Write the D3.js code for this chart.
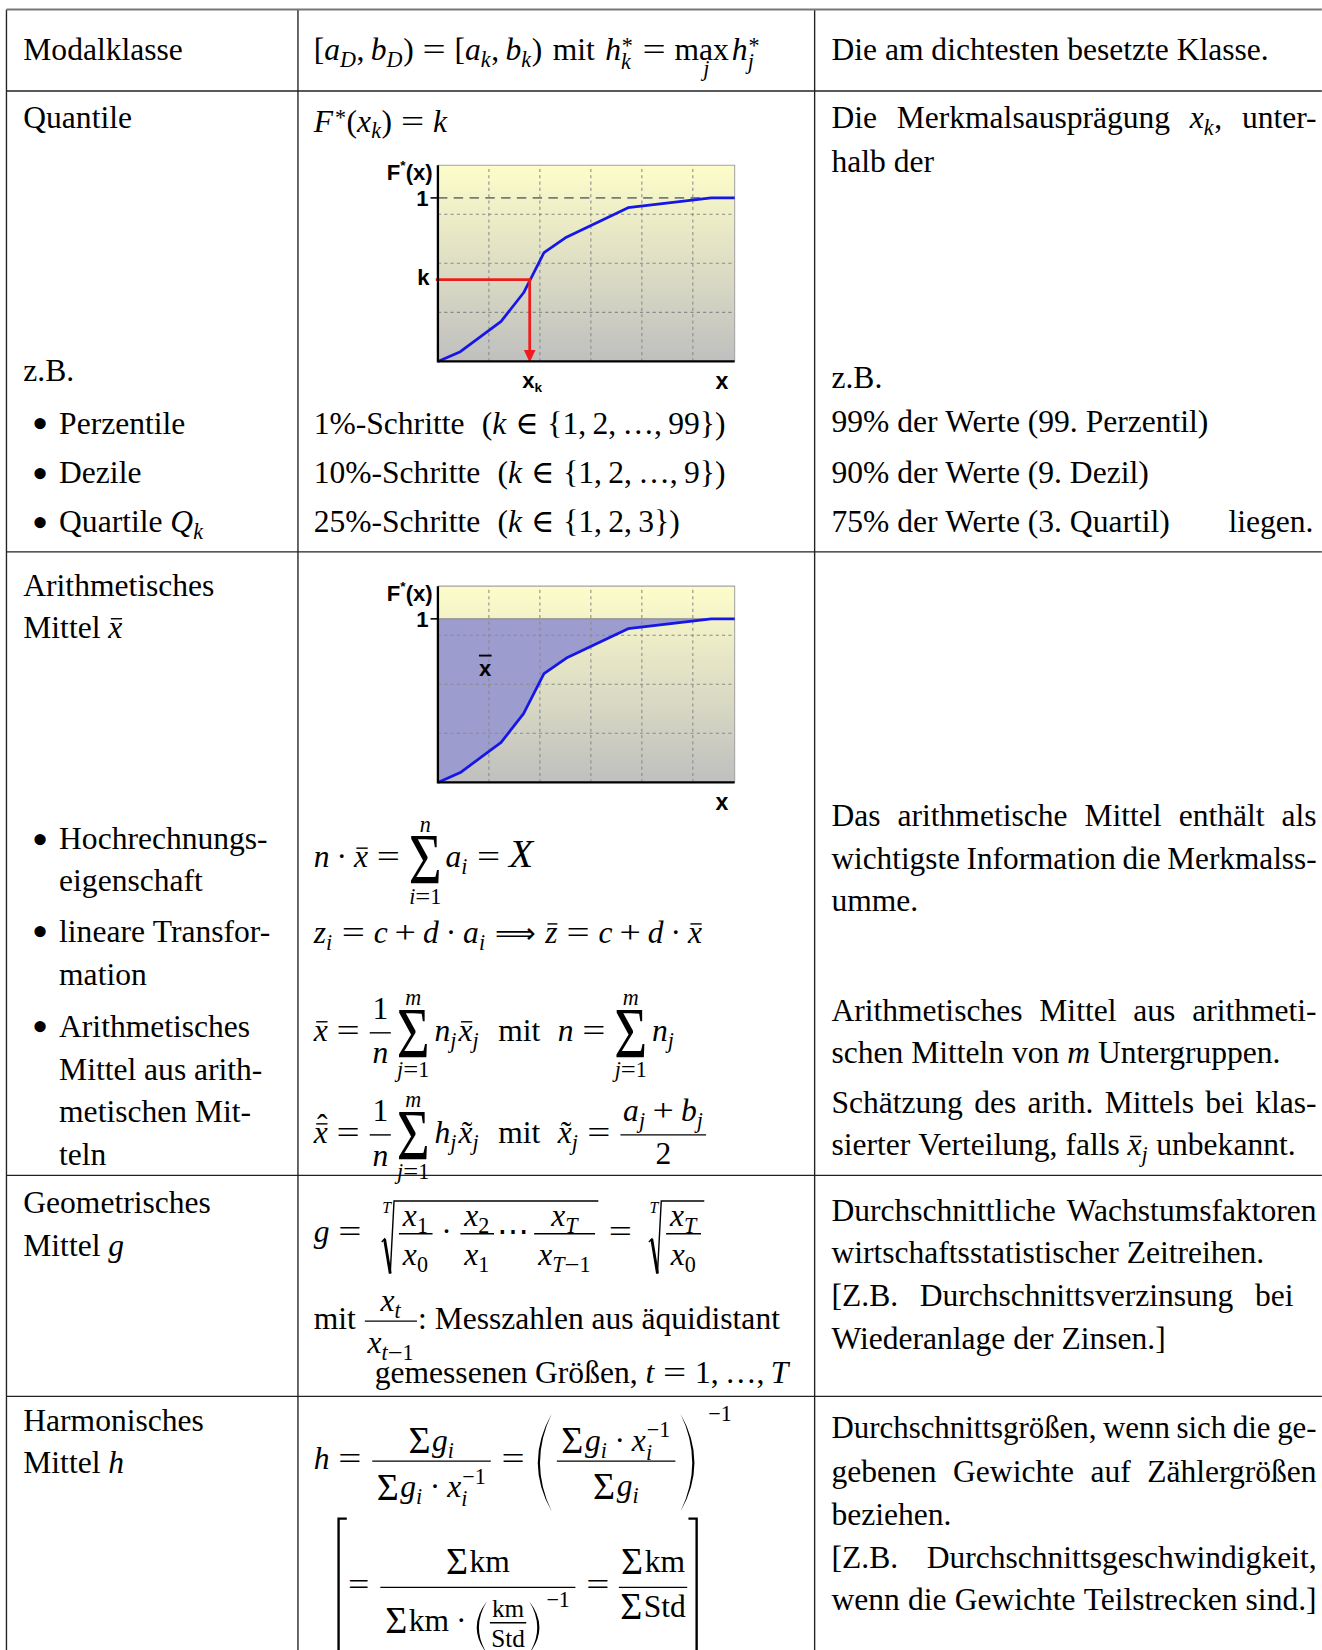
<!DOCTYPE html>
<html lang="de">
<head>
<meta charset="utf-8">
<title>Lageparameter</title>
<script src="https://cdn.jsdelivr.net/npm/d3@7"></script>
<style>
  body { margin: 0; background: #fff; }
  svg { display: block; }
  text { white-space: pre; }
</style>
</head>
<body>
<div id="vis"></div>
<script>
// gezeichnet im Maßstab der Vorlage (1256 x 1568), die viewBox streckt auf 1322 x 1650
const W = 1256, H = 1568, FS = 30;

// Summenkurve F*(x) (x in Rastereinheiten)
const curveX = [0, 0.44, 1.24, 1.68, 2.08, 2.52, 3.73, 5.36, 5.82];
const curveF = [0, 0.06, 0.245, 0.42, 0.665, 0.76, 0.94, 1, 1];
const gridX = [1, 2, 3, 4, 5];
const gridF = [0.3, 0.6, 0.9];
const kValue = 0.5;
const xkValue = 1.8;

// Tabellenraster
const colX = [6, 283, 774];
const rowY = [9, 86.5, 524.5, 1117, 1327];

const svg = d3.select("#vis").append("svg")
  .attr("width", 1322)
  .attr("height", 1650)
  .attr("viewBox", `0 0 ${W} ${H}`)
  .attr("font-family", "'Liberation Serif', 'DejaVu Serif', serif")
  .attr("xml:space", "preserve");

// ---- kleine Formel-Bausteine: (g, fs) => Breite ----
function T(s, o = {}) {
  return (g, fs) => {
    const t = g.append("text")
      .attr("font-size", fs * (o.k || 1))
      .attr("y", (o.dy || 0) * fs)
      .text(s);
    if (o.i) t.attr("font-style", "italic");
    if (o.f) t.attr("font-family", o.f);
    if (o.sx) t.attr("transform", `scale(${o.sx},1)`);
    return t.node().getComputedTextLength() * (o.sx || 1);
  };
}
function M(s) { return T(s, { i: true }); }
function I(v) { return typeof v === "string" ? M(v) : v; }
function Sp(em) { return (g, fs) => em * fs; }

function R(...items) {
  return (g, fs) => {
    let x = 0;
    items.forEach(it => {
      x += it(g.append("g").attr("transform", `translate(${x},0)`), fs);
    });
    return x;
  };
}

function Sc(base, sup, sb, o = {}) {
  return (g, fs) => {
    const w = base(g, fs);
    const both = sup && sb;
    const dx = o.dx ?? 0.03;
    let a = 0, b = 0;
    if (sup) {
      const up = o.up ?? (both ? 0.42 : 0.38);
      a = sup(g.append("g").attr("transform", `translate(${w + dx * fs},${-up * fs})`), fs * 0.7) + dx * fs;
    }
    if (sb) {
      const dn = o.dn ?? (both ? 0.28 : 0.22);
      b = sb(g.append("g").attr("transform", `translate(${w},${dn * fs})`), fs * 0.7);
    }
    return w + Math.max(a, b) + 0.02 * fs;
  };
}
function sub(b, s) { return Sc(I(b), null, I(s)); }
// Relationen und Operatoren etwas breiter, wie im Mathe-Satz
const wide = { "=": 1.3, "+": 1.2, "−": 1.2 };
function rel(s) { return R(Sp(0.28), T(s, { sx: wide[s] }), Sp(0.28)); }
function bin(s) { return R(Sp(0.22), T(s, { sx: wide[s] }), Sp(0.22)); }
const EQ = () => T("=", { sx: 1.2 });

function Ov(item, o = {}) {
  return (g, fs) => {
    const w = item(g, fs);
    const y = -(o.y ?? 0.6) * fs;
    g.append("line")
      .attr("x1", w * 0.18).attr("x2", w * 0.98)
      .attr("y1", y).attr("y2", y)
      .attr("stroke", "#000").attr("stroke-width", 0.045 * fs);
    return w;
  };
}

function Ac(item, ch, up = 0) {
  return (g, fs) => {
    const w = item(g, fs);
    g.append("text")
      .attr("font-size", fs)
      .attr("text-anchor", "middle")
      .attr("x", w * 0.6)
      .attr("y", -up * fs)
      .text(ch);
    return w;
  };
}

function Lim(op, low) {
  return (g, fs) => {
    const go = g.append("g"), gl = g.append("g");
    const wo = op(go, fs), wl = low(gl, fs * 0.7);
    const w = Math.max(wo, wl);
    go.attr("transform", `translate(${(w - wo) / 2},0)`);
    gl.attr("transform", `translate(${(w - wl) / 2 + 0.15 * fs},${0.52 * fs})`);
    return w;
  };
}

// großes Summenzeichen mit Grenzen
function Sum(up, low) {
  return (g, fs) => {
    const gs = g.append("g"), gu = g.append("g"), gl = g.append("g");
    const t = gs.append("text").attr("font-size", fs * 2.3).attr("y", fs * 0.5).text("Σ");
    const ws = t.node().getComputedTextLength() * 0.78;
    t.attr("transform", "scale(0.78,1)");
    const wu = up(gu, fs * 0.7), wl = low(gl, fs * 0.7);
    const w = Math.max(ws, wu, wl);
    gs.attr("transform", `translate(${(w - ws) / 2},0)`);
    gu.attr("transform", `translate(${(w - wu) / 2},${-1.12 * fs})`);
    gl.attr("transform", `translate(${(w - wl) / 2},${1.16 * fs})`);
    return w;
  };
}
// Summenzeichen im Text
function SumI() {
  return (g, fs) => {
    const t = g.append("text").attr("font-size", fs * 1.2).attr("y", fs * 0.08).text("Σ");
    return t.node().getComputedTextLength() + 0.05 * fs;
  };
}

function Fr(num, den, o = {}) {
  return (g, fs) => {
    const f = fs * (o.k || 1);
    const gn = g.append("g"), gd = g.append("g");
    const wn = num(gn, f), wd = den(gd, f);
    const pad = (o.pad ?? 0.12) * fs;
    const w = Math.max(wn, wd) + 2 * pad;
    const ax = 0.25 * fs;
    gn.attr("transform", `translate(${(w - wn) / 2},${-ax - (o.nu ?? 0.45) * fs})`);
    gd.attr("transform", `translate(${(w - wd) / 2},${-ax + (o.de ?? 0.97) * fs})`);
    g.append("line")
      .attr("x1", pad * 0.3).attr("x2", w - pad * 0.3)
      .attr("y1", -ax).attr("y2", -ax)
      .attr("stroke", "#000").attr("stroke-width", 0.045 * fs);
    return w;
  };
}

// Wurzel mit Index
function Rad(idx, body) {
  return (g, fs) => {
    const gb = g.append("g");
    const wb = body(gb, fs);
    const bb = gb.node().getBBox();
    const top = bb.y + 0.1 * fs, bot = bb.y + bb.height - 0.1 * fs;
    const xv = 0.45 * fs;
    const yt = top + 0.55 * (bot - top);
    gb.attr("transform", `translate(${xv + 0.1 * fs},0)`);
    const end = xv + 0.1 * fs + wb + 0.05 * fs;
    g.append("path")
      .attr("d", `M${0.06 * fs},${yt + 0.03 * fs} L${0.15 * fs},${yt - 0.06 * fs} L${0.33 * fs},${bot} L${xv},${top} H${end}`)
      .attr("fill", "none").attr("stroke", "#000")
      .attr("stroke-width", 0.045 * fs).attr("stroke-linejoin", "miter");
    g.append("line")
      .attr("x1", 0.15 * fs).attr("y1", yt - 0.06 * fs)
      .attr("x2", 0.33 * fs).attr("y2", bot)
      .attr("stroke", "#000").attr("stroke-width", 0.09 * fs);
    idx(g.append("g").attr("transform", `translate(${0.08 * fs},${top + 0.38 * fs})`), fs * 0.5);
    return end + 0.05 * fs;
  };
}

// große runde Klammern
function Pa(body, t, b, pw = 0.55) {
  return (g, fs) => {
    const p = pw * fs, th = 0.07 * fs;
    const gb = g.append("g").attr("transform", `translate(${p},0)`);
    const w = body(gb, fs);
    const y1 = -t * fs, y2 = b * fs, ym = (y1 + y2) / 2;
    const arc = (xe, xm, dir) => {
      const c = 2 * xm - xe, ci = 2 * (xm + dir * th) - xe;
      return `M${xe},${y1} Q${c},${ym} ${xe},${y2} Q${ci},${ym} ${xe},${y1}Z`;
    };
    g.append("path").attr("d", arc(p * 0.85, p * 0.2, 1));
    g.append("path").attr("d", arc(w + p * 1.15, w + p * 1.8, -1));
    return w + 2 * p;
  };
}

// eckige Klammern
function Bk(side, t, b) {
  return (g, fs) => {
    const w = 0.4 * fs, y1 = -t * fs, y2 = b * fs;
    const xv = side === "l" ? 0.12 * fs : w - 0.12 * fs;
    const xe = side === "l" ? w - 0.02 * fs : 0.02 * fs;
    g.append("path")
      .attr("d", `M${xe},${y1} H${xv} V${y2} H${xe}`)
      .attr("fill", "none").attr("stroke", "#000").attr("stroke-width", 0.075 * fs);
    return w;
  };
}

function put(x, y, item, fs = FS) {
  return item(svg.append("g").attr("transform", `translate(${x},${y})`), fs);
}

// Zeile aus Wörtern, optional im Blocksatz bis x1
function textLine(x0, y, content, x1) {
  const list = [];
  content.forEach(c => {
    if (typeof c === "string") c.split(" ").filter(Boolean).forEach(w => list.push(T(w)));
    else list.push(c);
  });
  const ws = list.map(it => {
    const g = svg.append("g");
    return { g, w: it(g, FS) };
  });
  const n = Math.max(1, ws.length - 1);
  let tot = d3.sum(ws, d => d.w);
  let s = 1;
  const minGap = 0.21 * FS;
  if (x1 && (x1 - x0 - tot) / n < minGap) s = (x1 - x0 - minGap * n) / tot;
  const gap = x1 ? (x1 - x0 - tot * s) / n : 0.25 * FS;
  let x = x0;
  ws.forEach(d => {
    d.g.attr("transform", `translate(${x},${y}) scale(${s},1)`);
    x += d.w * s + gap;
  });
}

// ---- Texte ----
const col1Lines = [
  [57, 0, ["Modalklasse"]],
  [122, 0, ["Quantile"]],
  [362, 0, ["z.B."]],
  [412, 1, ["Perzentile"]],
  [459, 1, ["Dezile"]],
  [506, 1, ["Quartile", sub("Q", "k")]],
  [566, 0, ["Arithmetisches"]],
  [606, 0, ["Mittel", Ov(M("x"))]],
  [807, 1, ["Hochrechnungs-"]],
  [847, 2, ["eigenschaft"]],
  [895, 1, ["lineare Transfor-"]],
  [936, 2, ["mation"]],
  [985, 1, ["Arithmetisches"]],
  [1026, 2, ["Mittel aus arith-"]],
  [1066, 2, ["metischen Mit-"]],
  [1107, 2, ["teln"]],
  [1153, 0, ["Geometrisches"]],
  [1194, 0, ["Mittel", M("g")]],
  [1360, 0, ["Harmonisches"]],
  [1400, 0, ["Mittel", M("h")]]
];

const RIGHT = 1251;
const col3Lines = [
  [57, ["Die am dichtesten besetzte Klasse."]],
  [122, ["Die Merkmalsausprägung", R(sub("x", "k"), T(",")), "unter-"], RIGHT],
  [163, ["halb der"]],
  [369, ["z.B."]],
  [411, ["99% der Werte (99. Perzentil)"]],
  [459, ["90% der Werte (9. Dezil)"]],
  [506, ["75% der Werte (3. Quartil)"]],
  [785, ["Das arithmetische Mittel enthält als"], RIGHT],
  [826, ["wichtigste Information die Merkmalss-"], RIGHT],
  [866, ["umme."]],
  [970, ["Arithmetisches Mittel aus arithmeti-"], RIGHT],
  [1010, ["schen Mitteln von", M("m"), "Untergruppen."]],
  [1058, ["Schätzung des arith. Mittels bei klas-"], RIGHT],
  [1098, ["sierter Verteilung, falls", Sc(Ov(M("x")), null, M("j")), "unbekannt."]],
  [1160, ["Durchschnittliche Wachstumsfaktoren"], RIGHT],
  [1200, ["wirtschaftsstatistischer Zeitreihen."]],
  [1241, ["[Z.B. Durchschnittsverzinsung bei"], 1229],
  [1282, ["Wiederanlage der Zinsen.]"]],
  [1367, ["Durchschnittsgrößen, wenn sich die ge-"], RIGHT],
  [1408, ["gebenen Gewichte auf Zählergrößen"], RIGHT],
  [1449, ["beziehen."]],
  [1490, ["[Z.B. Durchschnittsgeschwindigkeit,"], RIGHT],
  [1530, ["wenn die Gewichte Teilstrecken sind.]"], RIGHT]
];

const stepLines = [
  [412, "1%-Schritte", "{1,\u20092,\u2009…,\u200999})"],
  [459, "10%-Schritte", "{1,\u20092,\u2009…,\u20099})"],
  [506, "25%-Schritte", "{1,\u20092,\u20093})"]
];

// ---- Tabelle ----
const lines = svg.append("g").attr("stroke", "#222").attr("stroke-width", 1.3);
rowY.slice(1).forEach(y => lines.append("line").attr("x1", colX[0]).attr("x2", W).attr("y1", y).attr("y2", y));
colX.forEach(x => lines.append("line").attr("x1", x).attr("x2", x).attr("y1", rowY[0]).attr("y2", H));
svg.append("line")
  .attr("x1", colX[0]).attr("x2", W).attr("y1", rowY[0]).attr("y2", rowY[0])
  .attr("stroke", "#777").attr("stroke-width", 1.8);

col1Lines.forEach(([y, lvl, c]) => {
  if (lvl === 1) put(30, y, T("•", { k: 1.5, dy: 0.18 }));
  textLine(lvl === 0 ? 22 : 56, y, c);
});
col3Lines.forEach(([y, c, x1]) => textLine(790, y, c, x1));
svg.append("text").attr("x", 1248).attr("y", 506).attr("font-size", FS).attr("text-anchor", "end").text("liegen.");

// ---- Formeln, mittlere Spalte ----
const X0 = 298;
const hStar = s => Sc(M("h"), T("*"), M(s), { up: 0.22 });
put(X0, 57, R(
  T("["), sub("a", "D"), T(","), Sp(0.2), sub("b", "D"), T(")"), rel("="),
  T("["), sub("a", "k"), T(","), Sp(0.2), sub("b", "k"), T(")"),
  Sp(0.33), T("mit"), Sp(0.33), hStar("k"), rel("="), Lim(T("max"), M("j")), Sp(0.1), hStar("j")
));

put(X0, 125, R(
  Sc(M("F"), T("*"), null, { up: 0.22, dx: 0.06 }), T("("), sub("x", "k"), T(")"), rel("="), M("k")
));

stepLines.forEach(([y, a, b]) => put(X0, y, R(T(a), Sp(0.55), T("("), M("k"), rel("∈"), T(b))));

const lim = (u, l) => Sum(M(u), R(M(l), EQ(), T("1")));
put(X0, 824, R(
  M("n"), bin("·"), Ov(M("x")), rel("="), lim("n", "i"), Sp(0.12), sub("a", "i"), rel("="), T("X", { i: true, k: 1.25 })
));

put(X0, 896, R(
  sub("z", "i"), rel("="), M("c"), bin("+"), M("d"), bin("·"), sub("a", "i"),
  Sp(0.3), T("⟹", { f: "DejaVu Sans", k: 0.9, dy: 0.02 }), Sp(0.3),
  Ov(M("z")), rel("="), M("c"), bin("+"), M("d"), bin("·"), Ov(M("x"))
));

put(X0, 989, R(
  Ov(M("x")), rel("="), Fr(T("1"), M("n")), Sp(0.15), lim("m", "j"), Sp(0.15),
  sub("n", "j"), Sp(0.05), Sc(Ov(M("x")), null, M("j")), Sp(0.6), T("mit"), Sp(0.55),
  M("n"), rel("="), lim("m", "j"), Sp(0.15), sub("n", "j")
));

const xTilde = Sc(Ac(M("x"), "˜"), null, M("j"));
put(X0, 1086, R(
  Ac(Ov(M("x")), "ˆ", 0.2), rel("="), Fr(T("1"), M("n")), Sp(0.15), lim("m", "j"), Sp(0.15),
  sub("h", "j"), Sp(0.05), xTilde, Sp(0.6), T("mit"), Sp(0.55), xTilde, rel("="),
  Fr(R(sub("a", "j"), bin("+"), sub("b", "j")), T("2"), { nu: 0.43, de: 0.93 })
));

// geometrisches Mittel
const xs = s => sub("x", s);
const gFr = (n, d) => Fr(n, d, { nu: 0.25, de: 0.98, pad: 0.18 });
put(X0, 1180, R(
  M("g"), rel("="), Sp(0.3),
  Rad(M("T"), R(
    gFr(xs(T("1")), xs(T("0"))), bin("·"), gFr(xs(T("2")), xs(T("1"))),
    Sp(0.05), T("⋯"), Sp(0.1),
    gFr(xs("T"), xs(R(M("T"), T("−", { sx: 1.2 }), T("1"))))
  )),
  rel("="), Sp(0.2),
  Rad(M("T"), gFr(xs("T"), xs(T("0"))))
));
put(X0, 1263, R(
  T("mit"), Sp(0.25), Fr(xs("t"), xs(R(M("t"), T("−", { sx: 1.2 }), T("1"))), { nu: 0.32, de: 1.02 }),
  T(": Messzahlen aus äquidistant")
));
put(356, 1314.5, R(
  T("gemessenen Größen, "), M("t"), rel("="), T("1,\u2009…,\u2009"), M("T")
));

// harmonisches Mittel
const gi = () => R(SumI(), sub("g", "i"));
const gix = () => R(SumI(), sub("g", "i"), bin("·"), Sc(M("x"), T("−1"), M("i")));
put(X0, 1396, R(
  M("h"), rel("="), Fr(gi(), gix(), { nu: 0.33, de: 1.14, pad: 0.2 }), rel("="),
  Sc(Pa(Fr(gix(), gi(), { nu: 0.33, de: 1.12, pad: 0.2 }), 1.75, 1.35, 0.68), T("−1"), null, { up: 1.53, dx: 0.3 })
));
const km = () => R(SumI(), T("km"));
put(318, 1516, R(
  Bk("l", 2.43, 3), Sp(0.02), EQ(), Sp(0.28),
  Fr(km(), R(
    SumI(), T("km"), bin("·"),
    Sc(Pa(Fr(T("km"), T("Std"), { k: 0.8, nu: 0.17, de: 0.77, pad: 0.06 }), 0.93, 0.73, 0.5), T("−1"), null, { up: 0.76, dx: 0.12 })
  ), { nu: 0.5, de: 1.37, pad: 0.22 }),
  rel("="),
  Fr(km(), R(SumI(), T("Std")), { nu: 0.5, de: 0.93, pad: 0.06 }),
  Bk("r", 2.43, 3)
));

// ---- Diagramme ----
const lg = svg.append("defs").append("linearGradient")
  .attr("id", "bg").attr("x1", 0).attr("y1", 0).attr("x2", 0).attr("y2", 1);
lg.append("stop").attr("offset", 0).attr("stop-color", "#fdfdca");
lg.append("stop").attr("offset", 1).attr("stop-color", "#bfbfbf");

function drawCdf(top, mode) {
  const g = svg.append("g")
    .attr("font-family", "'Liberation Sans', Arial, sans-serif")
    .attr("font-weight", "bold");
  const x = d3.scaleLinear().domain([0, 5.82]).range([416, 698]);
  const y = d3.scaleLinear().domain([0, 1.2]).range([top + 186.5, top]);
  const [xl, xr] = x.range(), [yb, yt] = y.range();
  const pts = d3.zip(curveX, curveF);

  g.append("rect")
    .attr("x", xl).attr("y", yt)
    .attr("width", xr - xl).attr("height", yb - yt)
    .attr("fill", "url(#bg)");

  if (mode === "mean") {
    g.append("path").datum(pts)
      .attr("fill", "#9c9cce")
      .attr("d", d3.area().x(d => x(d[0])).y0(y(1)).y1(d => y(d[1])));
  }

  g.append("g").selectAll("line").data(gridX).join("line")
    .attr("x1", d => x(d)).attr("x2", d => x(d))
    .attr("y1", yb).attr("y2", yt)
    .attr("stroke", "#8a8a8a").attr("stroke-dasharray", "3,3");
  g.append("g").selectAll("line").data(gridF).join("line")
    .attr("x1", xl).attr("x2", xr)
    .attr("y1", d => y(d)).attr("y2", d => y(d))
    .attr("stroke", "#8a8a8a").attr("stroke-dasharray", "3,3");

  g.append("path")
    .attr("d", `M${xl},${yt} H${xr} V${yb}`)
    .attr("fill", "none").attr("stroke", "#a3a3a3");

  g.append("line")
    .attr("x1", xl).attr("x2", xr).attr("y1", y(1)).attr("y2", y(1))
    .attr("stroke", mode === "mean" ? "#8c8c8c" : "#7a7a7a")
    .attr("stroke-width", mode === "mean" ? 1.3 : 1.6)
    .attr("stroke-dasharray", mode === "mean" ? null : "9,6");

  g.append("path").datum(pts)
    .attr("fill", "none").attr("stroke", "#1616e6")
    .attr("stroke-width", 2.6).attr("stroke-linejoin", "round")
    .attr("d", d3.line().x(d => x(d[0])).y(d => y(d[1])));

  if (mode === "quantile") {
    const xk = x(xkValue), yk = y(kValue);
    g.append("path")
      .attr("d", `M${xl - 2},${yk} H${xk} V${yb - 9}`)
      .attr("fill", "none").attr("stroke", "#ee1c1c").attr("stroke-width", 2.6);
    g.append("path")
      .attr("d", `M${xk - 5.5},${yb - 11} L${xk + 5.5},${yb - 11} L${xk},${yb + 1}Z`)
      .attr("fill", "#ee1c1c");
    g.append("text").attr("x", 408).attr("y", yk + 5).attr("font-size", 21)
      .attr("text-anchor", "end").text("k");
    const t = g.append("text").attr("x", xk - 7).attr("y", yb + 25).attr("font-size", 21);
    t.append("tspan").text("x");
    t.append("tspan").attr("font-size", 13).attr("dy", 4).text("k");
  } else {
    g.append("text").attr("x", 461).attr("y", top + 85).attr("font-size", 21)
      .attr("text-anchor", "middle").text("x");
    g.append("line").attr("x1", 455).attr("x2", 467)
      .attr("y1", top + 66).attr("y2", top + 66)
      .attr("stroke", "#000").attr("stroke-width", 1.8);
  }

  g.append("path")
    .attr("d", `M${xl},${yt} V${yb} H${xr}`)
    .attr("fill", "none").attr("stroke", "#000").attr("stroke-width", 2.2);
  g.append("line")
    .attr("x1", xl - 7).attr("x2", xl).attr("y1", y(1)).attr("y2", y(1))
    .attr("stroke", "#000").attr("stroke-width", 1.5);

  const f = g.append("text").attr("x", 411).attr("y", top + 14).attr("font-size", 21)
    .attr("text-anchor", "end");
  f.append("tspan").text("F");
  f.append("tspan").attr("font-size", 13).attr("dy", -9).text("*");
  f.append("tspan").attr("dy", 9).text("(x)");
  g.append("text").attr("x", 407).attr("y", y(1) + 8).attr("font-size", 21)
    .attr("text-anchor", "end").text("1");
  g.append("text").attr("x", 686).attr("y", yb + 26).attr("font-size", 22)
    .attr("text-anchor", "middle").text("x");
}

drawCdf(157, "quantile");
drawCdf(557, "mean");
</script>
</body>
</html>
